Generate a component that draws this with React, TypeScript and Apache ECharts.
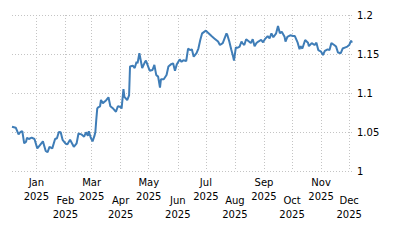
import React, { useEffect, useRef } from "react";
import * as echarts from "echarts";

const dates: string[] = [
  "2024-12-06", "2024-12-10", "2024-12-13", "2024-12-15", "2024-12-17", "2024-12-19", "2024-12-21", "2024-12-22",
  "2024-12-24", "2024-12-27", "2024-12-30", "2025-01-02", "2025-01-04", "2025-01-08", "2025-01-11", "2025-01-13",
  "2025-01-15", "2025-01-18", "2025-01-21", "2025-01-23", "2025-01-25", "2025-01-27", "2025-01-29", "2025-02-01",
  "2025-02-03", "2025-02-06", "2025-02-08", "2025-02-10", "2025-02-13", "2025-02-15", "2025-02-18", "2025-02-21",
  "2025-02-23", "2025-02-25", "2025-02-26", "2025-02-28", "2025-03-02", "2025-03-04", "2025-03-05", "2025-03-06",
  "2025-03-07", "2025-03-08", "2025-03-10", "2025-03-11", "2025-03-13", "2025-03-16", "2025-03-19", "2025-03-21",
  "2025-03-24", "2025-03-27", "2025-03-29", "2025-04-01", "2025-04-02", "2025-04-04", "2025-04-05", "2025-04-08",
  "2025-04-10", "2025-04-11", "2025-04-14", "2025-04-16", "2025-04-18", "2025-04-19", "2025-04-21", "2025-04-24",
  "2025-04-27", "2025-04-28", "2025-05-02", "2025-05-05", "2025-05-07", "2025-05-09", "2025-05-11", "2025-05-13",
  "2025-05-14", "2025-05-17", "2025-05-20", "2025-05-22", "2025-05-25", "2025-05-27", "2025-05-29", "2025-05-31",
  "2025-06-03", "2025-06-05", "2025-06-07", "2025-06-10", "2025-06-12", "2025-06-14", "2025-06-16", "2025-06-18",
  "2025-06-21", "2025-06-23", "2025-06-25", "2025-06-27", "2025-07-01", "2025-07-03", "2025-07-07", "2025-07-10",
  "2025-07-14", "2025-07-16", "2025-07-19", "2025-07-23", "2025-07-24", "2025-07-26", "2025-07-28", "2025-07-30",
  "2025-07-31", "2025-08-02", "2025-08-04", "2025-08-06", "2025-08-08", "2025-08-09", "2025-08-11", "2025-08-13",
  "2025-08-16", "2025-08-18", "2025-08-20", "2025-08-22", "2025-08-24", "2025-08-26", "2025-08-29", "2025-08-31",
  "2025-09-02", "2025-09-05", "2025-09-07", "2025-09-09", "2025-09-11", "2025-09-14", "2025-09-16", "2025-09-18",
  "2025-09-20", "2025-09-23", "2025-09-24", "2025-09-26", "2025-09-29", "2025-10-02", "2025-10-04", "2025-10-07",
  "2025-10-09", "2025-10-10", "2025-10-12", "2025-10-15", "2025-10-18", "2025-10-19", "2025-10-22", "2025-10-25",
  "2025-10-27", "2025-10-29", "2025-11-01", "2025-11-03", "2025-11-05", "2025-11-08", "2025-11-10", "2025-11-12",
  "2025-11-15", "2025-11-17", "2025-11-19", "2025-11-22", "2025-11-24", "2025-11-27", "2025-11-29", "2025-12-01",
  "2025-12-03", "2025-12-04",
];

const values: number[] = [
  1.0568, 1.0555, 1.047, 1.05, 1.051, 1.0355, 1.0376, 1.0427,
  1.041, 1.0427, 1.041, 1.029, 1.032, 1.038, 1.0256, 1.024,
  1.031, 1.029, 1.041, 1.042, 1.05, 1.0496, 1.04, 1.0355,
  1.034, 1.04, 1.0355, 1.031, 1.0355, 1.048, 1.047, 1.044,
  1.0496, 1.045, 1.051, 1.043, 1.038, 1.045, 1.05, 1.066,
  1.08, 1.0817, 1.083, 1.091, 1.087, 1.09, 1.0945, 1.083,
  1.08, 1.076, 1.083, 1.082, 1.08, 1.105, 1.095, 1.091,
  1.097, 1.134, 1.135, 1.132, 1.14, 1.138, 1.151, 1.132,
  1.14, 1.1415, 1.1286, 1.1295, 1.136, 1.123, 1.121, 1.107,
  1.1176, 1.1176, 1.123, 1.134, 1.137, 1.138, 1.1286, 1.137,
  1.143, 1.14, 1.142, 1.141, 1.157, 1.155, 1.156, 1.1465,
  1.151, 1.157, 1.168, 1.1765, 1.18, 1.1775, 1.173, 1.17,
  1.166, 1.1615, 1.164, 1.1765, 1.174, 1.166, 1.156, 1.147,
  1.1415, 1.1585, 1.158, 1.1595, 1.166, 1.164, 1.1615, 1.169,
  1.166, 1.164, 1.169, 1.16, 1.164, 1.166, 1.168, 1.165,
  1.169, 1.173, 1.17, 1.1765, 1.1715, 1.1765, 1.186, 1.1765,
  1.1786, 1.172, 1.166, 1.172, 1.174, 1.173, 1.173, 1.1645,
  1.156, 1.16, 1.157, 1.168, 1.1645, 1.16, 1.164, 1.1615,
  1.1645, 1.155, 1.153, 1.1487, 1.154, 1.156, 1.155, 1.164,
  1.1615, 1.1595, 1.152, 1.151, 1.157, 1.1585, 1.1595, 1.1615,
  1.167, 1.1645,
];

const tickDates: string[] = [
  "2025-01-01", "2025-02-01", "2025-03-01", "2025-04-01", "2025-05-01", "2025-06-01",
  "2025-07-01", "2025-08-01", "2025-09-01", "2025-10-01", "2025-11-01", "2025-12-01",
];
const monthLabels: string[] = ["Jan", "Feb", "Mar", "Apr", "May", "Jun", "Jul", "Aug", "Sep", "Oct", "Nov", "Dec"];
const yearLabel = "2025";

const FONT = "DejaVu Sans";
const FS = 10;

const toTime = (d: string) => echarts.time.parse(d).getTime();

export default function App() {
  const ref = useRef<HTMLDivElement>(null);
  useEffect(() => {
    if (!ref.current) return;
    const chart = echarts.init(ref.current, undefined, { renderer: "svg" });
    const tickTimes = tickDates.map(toTime);
    const splitStyle = { color: "#c4c4c4", width: 1, type: [1, 2] as number[] };
    chart.setOption({
      animation: false,
      grid: { left: 12, right: 48, top: 15, bottom: 79 },
      xAxis: {
        type: "value",
        min: toTime(dates[0]),
        max: toTime(dates[dates.length - 1]),
        axisLine: { show: false },
        axisTick: { show: false, customValues: tickTimes },
        splitLine: { show: true, lineStyle: splitStyle },
        axisLabel: {
          customValues: tickTimes,
          margin: 5,
          color: "#000",
          fontFamily: FONT,
          fontSize: FS,
          formatter: (v: number) => {
            const m = new Date(v).getMonth();
            const name = monthLabels[m];
            return m % 2 === 0
              ? `{a|${name}}\n{a|${yearLabel}}`
              : `{s| }\n{a|${name}}\n{a|${yearLabel}}`;
          },
          rich: {
            a: { lineHeight: 13.5, fontFamily: FONT, fontSize: FS, color: "#000" },
            s: { lineHeight: 18, fontSize: FS, fontFamily: FONT },
          },
        },
      },
      yAxis: {
        type: "value",
        position: "right",
        min: 1,
        max: 1.2,
        interval: 0.05,
        axisLine: { show: false },
        axisTick: { show: false },
        splitLine: { show: true, lineStyle: splitStyle },
        axisLabel: { margin: 5, color: "#000", fontFamily: FONT, fontSize: FS },
      },
      series: [
        {
          type: "line",
          data: dates.map((d, i) => [toTime(d), values[i]]),
          showSymbol: false,
          lineStyle: { color: "#3f7db7", width: 2 },
          itemStyle: { color: "#3f7db7" },
        },
      ],
    });
    return () => chart.dispose();
  }, []);
  return (
    <div
      ref={ref}
      style={{ position: "fixed", left: 0, top: 0, width: 400, height: 250, background: "#fff" }}
    />
  );
}
